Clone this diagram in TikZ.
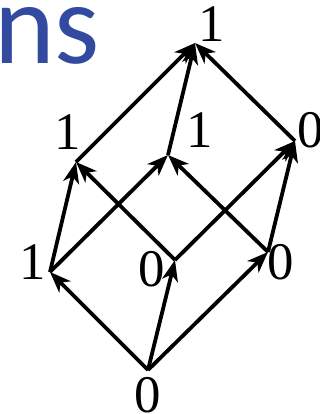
\documentclass[tikz,border=0pt]{standalone}
\usepackage{fontspec}
\setmainfont{Liberation Serif}
\newfontfamily\titlefont{Carlito}
\usetikzlibrary{arrows.meta}
\definecolor{titleblue}{RGB}{50,75,160}
\tikzset{
  edge/.style={line width=3.8bp, -{Stealth[length=21bp,width=16bp,inset=6bp]}},
  lbl/.style={inner sep=0pt, font=\fontsize{53}{53}\selectfont},
}
\begin{document}
\begin{tikzpicture}[x=1bp,y=-1bp]
\useasboundingbox (0,0) rectangle (320,414);
\node[anchor=base west, inner sep=0pt, text=titleblue, font=\titlefont\fontsize{116}{116}\selectfont] (title) at (-6,63) {ns};
\coordinate (B) at (148,370);
\coordinate (L1) at (50,272);
\coordinate (M0) at (175,260);
\coordinate (R0) at (268,252);
\coordinate (UL) at (76,162);
\coordinate (UM) at (168,155);
\coordinate (UR) at (295,141);
\coordinate (T) at (195,43);
\node[lbl] (tT) at (212,24) {1};
\node[lbl] (tUL) at (68,132) {1};
\node[lbl] (tUM) at (200,130) {1};
\node[lbl] (tUR) at (311,130) {0};
\node[lbl] (tL1) at (33,262) {1};
\node[lbl] (tM0) at (152,269) {0};
\node[lbl] (tR0) at (281,262) {0};
\node[lbl] (tB) at (148,395) {0};
\draw[edge] (B) -- (L1);
\draw[edge] (B) -- (M0);
\draw[edge] (B) -- (R0);
\draw[edge] (L1) -- (UL);
\draw[edge] (L1) -- (UM);
\draw[edge] (M0) -- (UL);
\draw[edge] (M0) -- (UR);
\draw[edge] (R0) -- (UM);
\draw[edge] (R0) -- (UR);
\draw[edge] (UL) -- (T);
\draw[edge] (UM) -- (T);
\draw[edge] (UR) -- (T);
\end{tikzpicture}
\end{document}
